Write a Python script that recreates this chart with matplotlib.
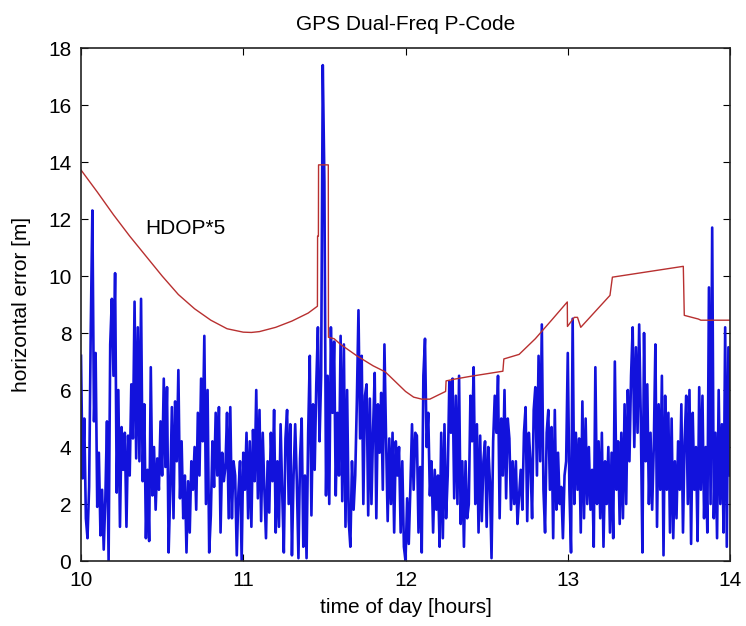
import numpy as np
import matplotlib
matplotlib.use("Agg")
import matplotlib.pyplot as plt

plt.rcParams["font.family"] = ["Liberation Sans", "DejaVu Sans"]
plt.rcParams.update({'font.size': 15})

# horizontal error [m], one sample every 0.01 h from 10:00 to 14:00
err_10 = [7.2, 2.9, 5.0, 1.5, 0.8, 2.6, 8.1, 12.3, 4.9, 7.3,
          1.9, 3.8, 0.9, 2.5, 0.4, 2.2, 4.9, 0.0, 7.6, 9.2,
          6.5, 10.1, 2.4, 6.0, 1.2, 4.7, 3.2, 4.5, 1.2, 4.4,
          3.0, 6.2, 4.3, 9.1, 3.6, 8.2, 3.5, 9.2, 2.8, 5.5,
          0.8, 3.2, 0.7, 6.8, 2.3, 4.0, 1.8, 3.6, 2.5, 4.9,
          3.0, 6.4, 3.3, 6.1, 0.3, 2.5, 5.4, 1.5, 5.6, 3.5,
          6.7, 2.2, 4.2, 1.5, 3.0, 0.3, 2.8, 1.0, 3.5, 2.5,
          4.0, 1.8, 5.2, 3.0, 6.4, 4.2, 7.9, 2.0, 6.0, 0.3,
          1.6, 4.2, 2.6, 5.2, 3.0, 5.4, 1.0, 3.8, 2.8, 3.3,
          5.2, 1.5, 5.4, 1.5, 3.5, 3.0, 0.2, 2.4, 3.5, 0.0]
err_11 = [3.8, 2.5, 4.5, 1.5, 4.2, 1.2, 4.6, 2.8, 6.0, 2.2,
          5.3, 1.4, 4.5, 2.5, 0.8, 3.5, 1.7, 4.5, 2.8, 5.3,
          1.0, 3.5, 1.2, 4.8, 2.4, 0.3, 4.3, 5.3, 2.0, 4.8,
          0.2, 3.0, 4.8, 2.8, 0.1, 3.6, 5.0, 0.5, 3.0, 0.1,
          4.5, 7.2, 1.6, 5.5, 3.2, 6.2, 8.2, 4.2, 6.5, 17.4,
          13.3, 2.3, 6.5, 2.0, 8.2, 5.2, 7.7, 2.3, 5.2, 3.0,
          7.9, 2.1, 7.6, 1.2, 6.0, 1.4, 0.5, 3.5, 1.8, 3.0,
          5.6, 8.8, 4.3, 7.2, 2.0, 5.8, 6.2, 1.6, 5.7, 2.0,
          4.6, 6.6, 1.5, 5.5, 3.8, 5.9, 2.5, 7.6, 4.3, 1.4,
          4.3, 2.0, 4.5, 1.0, 4.2, 3.0, 4.0, 1.0, 3.5, 0.5]
err_12 = [0.0, 2.2, 0.6, 2.6, 4.8, 2.5, 4.5, 4.4, 1.0, 3.3,
          0.3, 6.5, 7.8, 4.0, 5.2, 2.3, 3.5, 1.0, 3.2, 1.8,
          3.0, 0.5, 4.5, 0.8, 4.8, 1.5, 3.0, 6.3, 4.5, 6.4,
          2.2, 5.8, 2.0, 6.5, 1.3, 3.5, 0.5, 3.5, 1.5, 2.0,
          5.8, 4.2, 6.8, 2.0, 4.8, 1.0, 4.4, 1.4, 3.5, 4.2,
          1.2, 4.0, 2.8, 0.1, 4.2, 5.8, 4.5, 6.5, 1.5, 5.0,
          3.0, 6.0, 2.2, 5.0, 4.3, 1.8, 3.5, 2.0, 3.5, 1.3,
          2.3, 3.2, 1.8, 4.5, 5.4, 1.4, 4.5, 3.5, 1.5, 5.3,
          6.1, 3.0, 7.2, 3.5, 8.3, 2.5, 1.0, 4.5, 5.3, 2.5,
          4.7, 0.8, 5.3, 1.8, 3.8, 2.0, 2.6, 0.8, 3.0, 3.5]
err_13 = [7.3, 2.5, 0.3, 8.5, 2.0, 4.5, 2.5, 4.3, 1.0, 5.6,
          1.5, 5.0, 2.0, 4.0, 1.8, 3.2, 0.5, 6.8, 2.0, 4.2,
          1.5, 4.5, 0.5, 3.5, 2.0, 4.0, 1.0, 3.8, 0.8, 7.0,
          2.5, 4.2, 1.3, 4.5, 1.5, 5.5, 2.0, 6.0, 3.5, 6.5,
          8.2, 4.0, 7.5, 4.5, 8.3, 5.0, 0.3, 8.0, 3.5, 6.2,
          2.0, 4.5, 1.8, 4.0, 7.6, 1.2, 5.5, 2.5, 6.5, 0.2,
          5.8, 2.5, 5.2, 1.0, 5.0, 0.8, 3.5, 1.5, 4.2, 2.5,
          5.5, 1.0, 4.2, 5.8, 2.0, 6.0, 0.6, 5.2, 2.5, 4.0,
          0.7, 6.1, 2.5, 5.8, 1.5, 4.0, 1.0, 9.6, 2.0, 11.7,
          1.5, 4.5, 0.8, 6.0, 2.0, 4.8, 1.0, 8.2, 0.5, 7.5,
          3.0]
error = err_10 + err_11 + err_12 + err_13
t_err = np.linspace(10, 14, len(error))

# HDOP*5 breakpoints
hdop_t = [10.0, 10.1, 10.2, 10.3, 10.4, 10.5, 10.6, 10.7, 10.8, 10.9,
          11.0, 11.05, 11.1, 11.2, 11.3, 11.4, 11.457, 11.458, 11.463, 11.464,
          11.524, 11.525, 11.56, 11.6, 11.7, 11.8, 11.874, 11.9, 12.0, 12.05,
          12.1, 12.15, 12.2, 12.247, 12.25, 12.3, 12.4, 12.5, 12.6, 12.606,
          12.7, 12.8, 12.9, 12.997, 12.998, 13.04, 13.06, 13.08, 13.26, 13.275,
          13.712, 13.718, 13.805, 13.82, 14.0]
hdop_v = [13.72, 12.95, 12.15, 11.4, 10.7, 10.0, 9.35, 8.85, 8.45, 8.15,
          8.03, 8.02, 8.05, 8.2, 8.42, 8.7, 8.94, 11.4, 11.4, 13.9,
          13.9, 7.85, 7.8, 7.6, 7.2, 6.85, 6.64, 6.5, 5.95, 5.75,
          5.68, 5.68, 5.82, 5.95, 6.32, 6.38, 6.48, 6.57, 6.66, 7.09,
          7.25, 7.8, 8.45, 9.09, 8.23, 8.55, 8.55, 8.2, 9.32, 9.96,
          10.34, 8.62, 8.49, 8.45, 8.45]

fig = plt.figure(figsize=(7.46, 6.26), dpi=100)
ax = fig.add_axes([0.1086, 0.1038, 0.87, 0.8195])

ax.plot(t_err, error, color='#1212dc', linewidth=1.9)
ax.plot(hdop_t, hdop_v, color='#b83030', linewidth=1.0)
ax.text(10.394, 11.68, 'HDOP*5', va='center', ha='left', fontsize=15)

ax.set_xlim(10, 14)
ax.set_ylim(0, 18)
ax.set_xticks([10, 11, 12, 13, 14])
ax.set_yticks(range(0, 19, 2))
ax.tick_params(direction='in', top=True, right=True, length=5, pad=7, labelsize=15)
for s in ax.spines.values():
    s.set_linewidth(1.2)
    s.set_color('#222222')

ax.set_title('GPS Dual-Freq P-Code', fontsize=15, pad=13)
ax.set_xlabel('time of day [hours]', fontsize=15, va='top')
ax.xaxis.set_label_coords(0.5, -0.072)
ax.set_ylabel('horizontal error [m]', fontsize=15, va='center')
ax.yaxis.set_label_coords(-0.091, 0.5)

fig.savefig('out.png', dpi=100)
